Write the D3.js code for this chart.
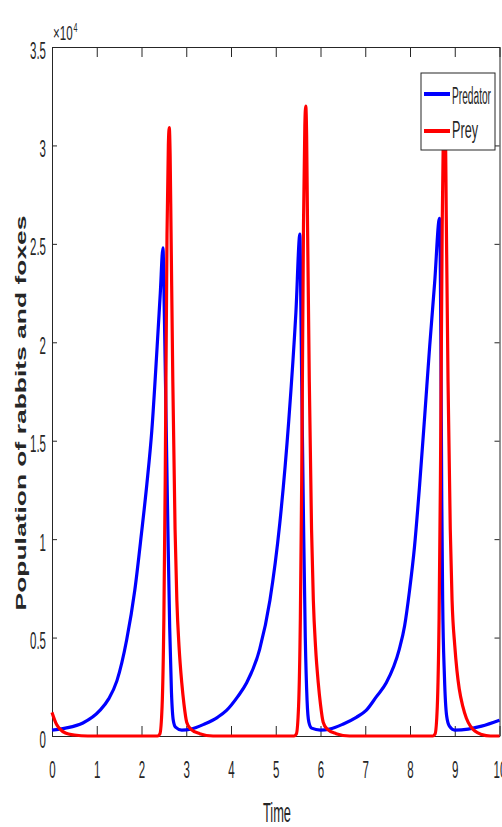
<!DOCTYPE html>
<html>
<head>
<meta charset="utf-8">
<script src="https://cdn.jsdelivr.net/npm/d3@7"></script>
<style>
  body { margin: 0; background: #fff; overflow: hidden; }
  svg text { font-family: "Liberation Sans", Arial, sans-serif; fill: #262626; }
</style>
</head>
<body>
<script>
// values (time, population)
var predatorPts = [
  [0, 300], [0.3, 400], [0.69, 660], [1.07, 1300], [1.27, 1900], [1.45, 2800],
  [1.67, 4900], [1.85, 7400], [2.0, 10300], [2.12, 12800],
  [2.23, 15500], [2.35, 19800], [2.42, 22500], [2.48, 24800], [2.51, 21500], [2.55, 16000],
  [2.59, 10500], [2.63, 5500], [2.67, 2200], [2.71, 800], [2.76, 450], [2.9, 300],
  [3.1, 350], [3.4, 600], [3.7, 950], [3.9, 1300], [4.15, 2000], [4.35, 2700],
  [4.64, 4400], [4.87, 6900], [5.09, 10800],
  [5.29, 16000], [5.45, 21500], [5.54, 25500], [5.56, 22000], [5.58, 18000],
  [5.62, 11000], [5.66, 5000], [5.7, 1800], [5.74, 700], [5.8, 400], [6.0, 300],
  [6.2, 350], [6.5, 600], [6.8, 950], [7.02, 1300], [7.25, 2000], [7.47, 2700],
  [7.76, 4400], [7.88, 5600], [7.99, 7400], [8.1, 9600], [8.21, 12600], [8.33, 16300],
  [8.44, 19800], [8.55, 23000], [8.66, 26300], [8.69, 20000], [8.71, 12000], [8.73, 6900],
  [8.77, 3000], [8.82, 1000], [8.88, 500], [9.0, 300], [9.3, 350], [9.6, 500], [10, 800]
];

var preyPts = [
  [0, 1200], [0.1, 600], [0.18, 350], [0.3, 150], [0.5, 50], [0.8, 0], [2.36, 0],
  [2.41, 100], [2.46, 1500], [2.5, 6000], [2.53, 13000], [2.57, 25500], [2.6, 30000],
  [2.62, 30900], [2.64, 29500], [2.66, 25700], [2.7, 18000], [2.75, 10500], [2.79, 6900],
  [2.84, 4500], [2.9, 2700], [2.95, 1600], [3.01, 700], [3.1, 350], [3.3, 120], [3.6, 0],
  [5.41, 0], [5.46, 100], [5.51, 1500], [5.55, 6000], [5.58, 13000], [5.62, 26000],
  [5.65, 31000], [5.67, 32000], [5.69, 30500], [5.71, 26000], [5.75, 18000], [5.8, 10500],
  [5.84, 6900], [5.89, 4500], [5.95, 2700], [6.0, 1600], [6.06, 700], [6.15, 350],
  [6.35, 120], [6.65, 0],
  [8.51, 0], [8.56, 100], [8.61, 1500], [8.65, 6000], [8.68, 13000], [8.72, 26000],
  [8.75, 31500], [8.77, 33000], [8.79, 31500], [8.81, 26500], [8.85, 18000], [8.9, 10500],
  [8.94, 6900], [9.0, 4600], [9.05, 3300], [9.1, 2400], [9.18, 1500], [9.26, 900],
  [9.35, 500], [9.45, 250], [9.6, 80], [9.8, 0], [10, 0]
];

var seriesNames = ["Predator", "Prey"];
var seriesColors = ["#0000ff", "#ff0000"];

var xTicks = [0, 1, 2, 3, 4, 5, 6, 7, 8, 9, 10];
var yTicks = [0, 5000, 10000, 15000, 20000, 25000, 30000, 35000];
var yTickLabels = ["0", "0.5", "1", "1.5", "2", "2.5", "3", "3.5"];

var W = 502, H = 827;
var plotL = 52, plotR = 499.5, plotT = 47, plotB = 736;
var sx = 0.5; // the figure is squeezed sideways

var svg = d3.select("body").append("svg")
  .attr("width", W)
  .attr("height", H);

var x = d3.scaleLinear().domain([0, 10]).range([plotL, plotR]);
var y = d3.scaleLinear().domain([0, 35000]).range([plotB, plotT]);

var axisColor = "#262626";

function styleAxis(g) {
  g.selectAll(".domain").attr("stroke", axisColor).attr("stroke-width", 1);
  g.selectAll(".tick line").attr("stroke", axisColor).attr("stroke-width", 1);
}

// axes under the lines
var gx = svg.append("g")
  .attr("transform", "translate(0," + plotB + ")")
  .call(d3.axisBottom(x).tickValues(xTicks).tickSizeInner(-10).tickSizeOuter(0)
    .tickFormat(d3.format("d")));
styleAxis(gx);
gx.selectAll(".tick text")
  .attr("y", 42).attr("dy", 0)
  .attr("font-size", 23)
  .attr("fill", axisColor)
  .attr("transform", "scale(" + sx + ",1)");

var gt = svg.append("g")
  .attr("transform", "translate(0," + plotT + ")")
  .call(d3.axisTop(x).tickValues(xTicks).tickSizeInner(-10).tickSizeOuter(0).tickFormat(""));
styleAxis(gt);

var gy = svg.append("g")
  .attr("transform", "translate(" + plotL + ",0)")
  .call(d3.axisLeft(y).tickValues(yTicks).tickSizeInner(-5).tickSizeOuter(0)
    .tickFormat(function(d, i) { return yTickLabels[i]; }));
styleAxis(gy);
gy.selectAll(".tick text")
  .attr("x", -6 / sx).attr("y", 11).attr("dy", 0)
  .attr("font-size", 23)
  .attr("fill", axisColor)
  .attr("transform", "scale(" + sx + ",1)");

var gr = svg.append("g")
  .attr("transform", "translate(" + plotR + ",0)")
  .call(d3.axisRight(y).tickValues(yTicks).tickSizeInner(-5).tickSizeOuter(0).tickFormat(""));
styleAxis(gr);

// the two series
var line = d3.line()
  .x(function(d) { return x(d[0]); })
  .y(function(d) { return y(d[1]); })
  .curve(d3.curveMonotoneX);

[predatorPts, preyPts].forEach(function(pts, i) {
  svg.append("path")
    .datum(pts)
    .attr("fill", "none")
    .attr("stroke", seriesColors[i])
    .attr("stroke-width", 3.2)
    .attr("stroke-linejoin", "round")
    .attr("d", line);
});

// exponent
svg.append("text")
  .attr("transform", "translate(53,40) scale(0.58,1)")
  .attr("font-size", 20)
  .text("\u00d710");
svg.append("text")
  .attr("transform", "translate(73.5,32) scale(0.55,1)")
  .attr("font-size", 13)
  .text("4");

// axis titles
svg.append("text")
  .attr("transform", "translate(277,822)")
  .attr("text-anchor", "middle")
  .attr("font-size", 28)
  .attr("textLength", 28)
  .attr("lengthAdjust", "spacingAndGlyphs")
  .text("Time");

svg.append("text")
  .attr("transform", "translate(26,413) rotate(-90)")
  .attr("text-anchor", "middle")
  .attr("font-size", 15)
  .attr("font-weight", "bold")
  .attr("fill", "#404040")
  .attr("textLength", 395)
  .attr("lengthAdjust", "spacingAndGlyphs")
  .text("Population of rabbits and foxes");

// legend
var legend = svg.append("g");
legend.append("rect")
  .attr("x", 421).attr("y", 73)
  .attr("width", 74).attr("height", 77)
  .attr("fill", "#fff")
  .attr("stroke", axisColor)
  .attr("stroke-width", 1);

var legendY = [94, 131];
var legendTextY = [104, 138];
var legendWidths = [39, 26];
seriesNames.forEach(function(name, i) {
  legend.append("line")
    .attr("x1", 424).attr("x2", 450)
    .attr("y1", legendY[i]).attr("y2", legendY[i])
    .attr("stroke", seriesColors[i])
    .attr("stroke-width", 4);
  legend.append("text")
    .attr("x", 452).attr("y", legendTextY[i])
    .attr("font-size", 23)
    .attr("textLength", legendWidths[i])
    .attr("lengthAdjust", "spacingAndGlyphs")
    .text(name);
});
</script>
</body>
</html>
